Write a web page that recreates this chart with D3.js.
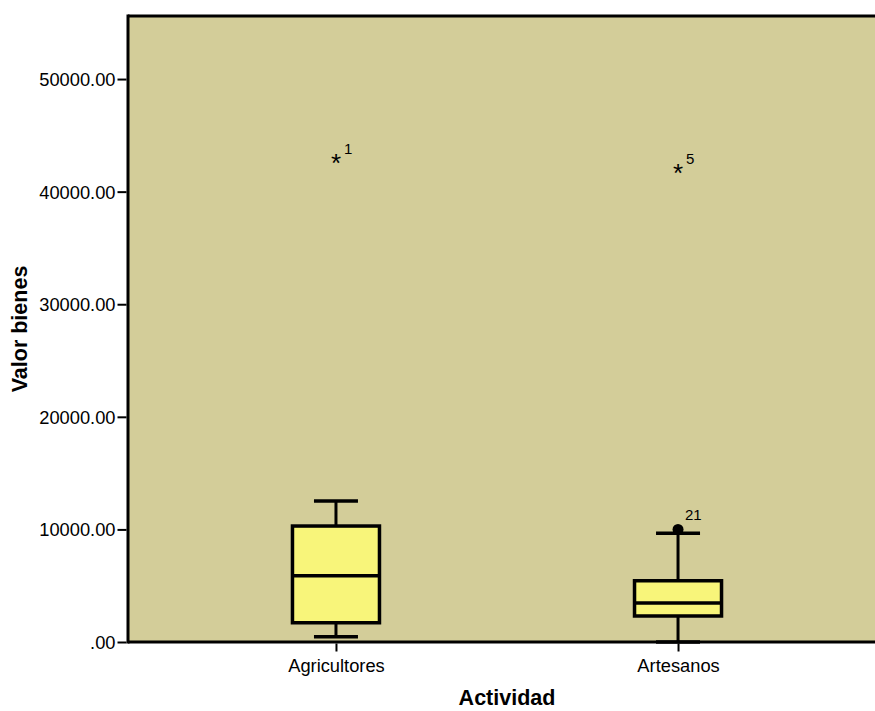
<!DOCTYPE html>
<html><head><meta charset="utf-8">
<script src="https://cdn.jsdelivr.net/npm/d3@7"></script>
<style>body{margin:0;background:#fff}svg{display:block;font-family:"Liberation Sans",Arial,sans-serif}</style>
</head><body><svg id="c" width="875" height="711"></svg>
<script>
const categories = ["Agricultores", "Artesanos"];
const whiskerLow = [470, 0];
const q1 = [1710, 2310];
const median = [5890, 3460];
const q3 = [10300, 5440];
const whiskerHigh = [12520, 9650];
const outlierCats = ["Agricultores", "Artesanos", "Artesanos"];
const outlierValues = [42800, 41900, 10000];
const outlierLabels = ["1", "5", "21"];
const outlierKinds = ["extreme", "extreme", "outlier"];
const yTicks = [0, 10000, 20000, 30000, 40000, 50000];

const svg = d3.select("#c");
const L = 128, R = 886, T = 16, B = 642;
const x = d3.scalePoint().domain(categories).range([L, R]).padding(0.608);
const y = d3.scaleLinear().domain([0, 55600]).range([B, T]);

svg.append("rect").attr("x", L).attr("y", T).attr("width", R - L).attr("height", B - T).attr("fill", "#d3cd99");

const bw = 87, cw = 44;
const g = svg.append("g");
categories.forEach((c, i) => {
  const cx = x(c);
  g.append("line").attr("x1", cx).attr("x2", cx).attr("y1", y(whiskerHigh[i])).attr("y2", y(q3[i])).attr("stroke", "#000").attr("stroke-width", 3);
  g.append("line").attr("x1", cx).attr("x2", cx).attr("y1", y(q1[i])).attr("y2", y(whiskerLow[i])).attr("stroke", "#000").attr("stroke-width", 3);
  g.append("line").attr("x1", cx - cw / 2).attr("x2", cx + cw / 2).attr("y1", y(whiskerHigh[i])).attr("y2", y(whiskerHigh[i])).attr("stroke", "#000").attr("stroke-width", 3.5);
  g.append("line").attr("x1", cx - cw / 2).attr("x2", cx + cw / 2).attr("y1", y(whiskerLow[i])).attr("y2", y(whiskerLow[i])).attr("stroke", "#000").attr("stroke-width", 3.5);
  g.append("rect").attr("x", cx - bw / 2).attr("y", y(q3[i])).attr("width", bw).attr("height", y(q1[i]) - y(q3[i])).attr("fill", "#f8f57a").attr("stroke", "#000").attr("stroke-width", 3.5);
  g.append("line").attr("x1", cx - bw / 2).attr("x2", cx + bw / 2).attr("y1", y(median[i])).attr("y2", y(median[i])).attr("stroke", "#000").attr("stroke-width", 3.5);
});

outlierValues.forEach((v, i) => {
  const cx = x(outlierCats[i]), cy = y(v);
  if (outlierKinds[i] === "extreme") {
    g.append("text").attr("x", cx).attr("y", cy + 12).attr("text-anchor", "middle").attr("font-size", 26).text("*");
    g.append("text").attr("x", cx + 8).attr("y", cy - 6).attr("font-size", 15).text(outlierLabels[i]);
  } else {
    g.append("circle").attr("cx", cx).attr("cy", cy).attr("r", 5.5).attr("fill", "#000");
    g.append("text").attr("x", cx + 7).attr("y", cy - 9).attr("font-size", 15).text(outlierLabels[i]);
  }
});

// borders
svg.append("line").attr("x1", L).attr("x2", 875).attr("y1", T).attr("y2", T).attr("stroke", "#000").attr("stroke-width", 3);
svg.append("line").attr("x1", L).attr("x2", 875).attr("y1", B).attr("y2", B).attr("stroke", "#000").attr("stroke-width", 3);
svg.append("line").attr("x1", L).attr("x2", L).attr("y1", T - 1.5).attr("y2", B + 1.5).attr("stroke", "#000").attr("stroke-width", 3);

const fmt = d => d === 0 ? ".00" : d3.format(".2f")(d);
const ya = svg.append("g").attr("transform", `translate(${L - 1.5},0)`).call(d3.axisLeft(y).tickValues(yTicks).tickFormat(fmt).tickSize(9).tickPadding(2));
ya.select(".domain").remove();
ya.selectAll("line").attr("stroke-width", 2);
ya.selectAll("text").attr("font-size", 18.3).attr("font-family", "Liberation Sans, Arial, sans-serif").attr("fill", "#000").attr("dy", "0.35em");

const xa = svg.append("g").attr("transform", `translate(0,${B + 1.5})`).call(d3.axisBottom(x).tickSize(8).tickPadding(8));
xa.select(".domain").remove();
xa.selectAll("line").attr("stroke-width", 2);
xa.selectAll("text").attr("font-size", 18.3).attr("font-family", "Liberation Sans, Arial, sans-serif").attr("fill", "#000");

svg.append("text").attr("x", 507).attr("y", 705).attr("text-anchor", "middle").attr("font-size", 21.5).attr("font-weight", "bold").text("Actividad");
svg.append("text").attr("transform", "translate(27,329) rotate(-90)").attr("text-anchor", "middle").attr("font-size", 21.5).attr("font-weight", "bold").text("Valor bienes");
</script></body></html>
